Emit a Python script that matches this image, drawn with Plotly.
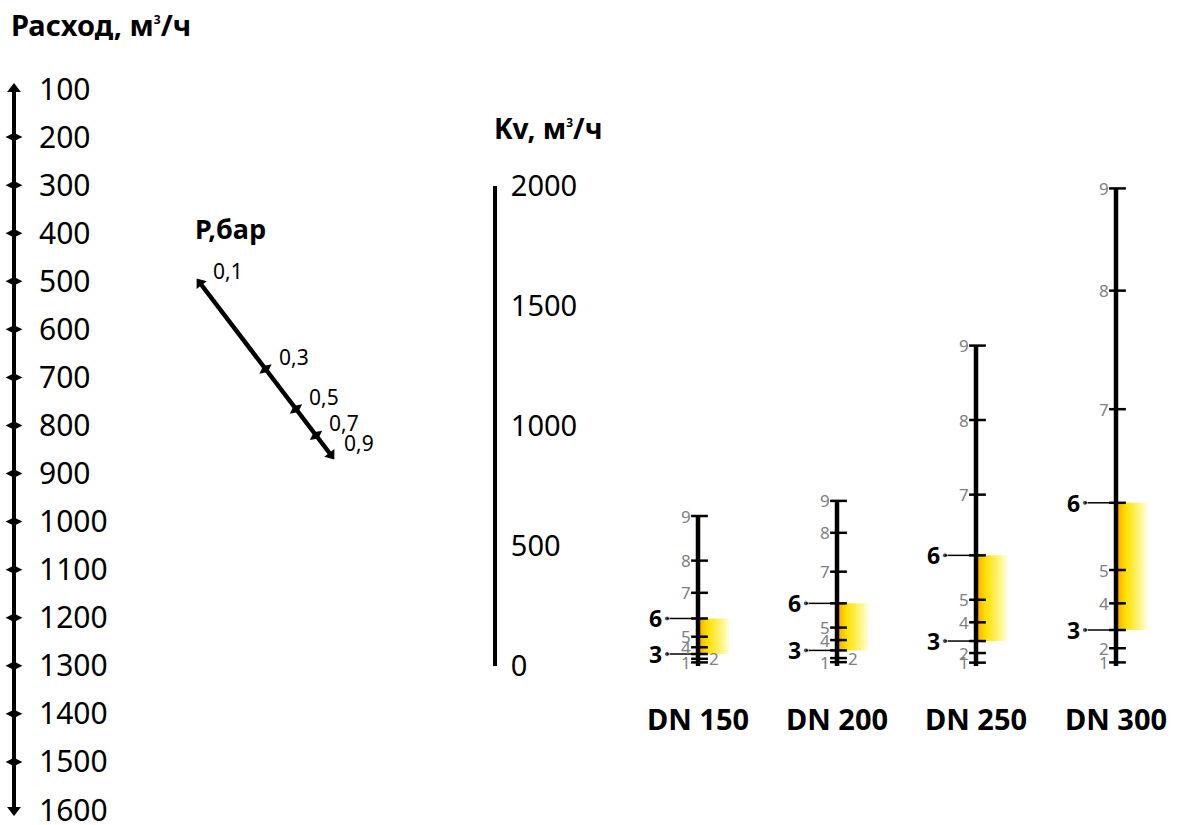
import numpy as np
import plotly.graph_objects as go

# ---------------- data ----------------
flow_ticks = [100, 200, 300, 400, 500, 600, 700, 800, 900, 1000, 1100, 1200, 1300, 1400, 1500, 1600]
pressure_ticks = [0.1, 0.3, 0.5, 0.7, 0.9]
pressure_labels = ["0,1", "0,3", "0,5", "0,7", "0,9"]
kv_ticks = [0, 500, 1000, 1500, 2000]
dn_names = ["DN 150", "DN 200", "DN 250", "DN 300"]
positions = [1, 2, 3, 4, 5, 6, 7, 8, 9]
kv_dn150 = [15, 30, 50, 78, 122, 198, 305, 439, 625]
kv_dn200 = [16, 33, 65, 108, 160, 261, 393, 555, 688]
kv_dn250 = [14, 54, 104, 182, 276, 461, 714, 1025, 1335]
kv_dn300 = [15, 74, 150, 261, 400, 680, 1070, 1564, 1990]
range_low = 3
range_high = 6

# ---------------- layout constants ----------------
W, H = 1181, 825
FONT = "Noto Sans"
FLOW_X = 14
KV_X = 495
DN_X = [698, 837, 976, 1116]
RECT_W = 31
SUP3 = '<sup><span style="font-size:12px">3</span></sup>'


def fy(p):  # pixel row -> paper fraction
    return (H - p) / H


fig = go.Figure()

# ---- flow scale (Расход) ----
n = len(flow_ticks)
sym = ["triangle-up"] + ["diamond-wide"] * (n - 2) + ["triangle-down"]
fig.add_trace(go.Scatter(
    x=[FLOW_X] * n, y=flow_ticks, xaxis="x", yaxis="y",
    mode="markers", cliponaxis=False, hoverinfo="skip",
    marker=dict(symbol=sym, size=12, color="black", line=dict(width=0)),
))

# ---- pressure scale (log) ----
m = len(pressure_ticks)
psym = ["triangle-up"] + ["diamond-wide"] * (m - 2) + ["triangle-down"]
fig.add_trace(go.Scatter(
    x=pressure_ticks, y=pressure_ticks, xaxis="x2", yaxis="y3",
    mode="lines+markers", cliponaxis=False, hoverinfo="skip",
    line=dict(color="black", width=4.5),
    marker=dict(symbol=psym, size=11, color="black", angle=-37.3, line=dict(width=0)),
))
for p, lab in zip(pressure_ticks, pressure_labels):
    fig.add_annotation(x=np.log10(p), y=np.log10(p), xref="x2", yref="y3",
                       text=lab, showarrow=False, xanchor="left", yanchor="middle",
                       xshift=11, yshift=12,
                       font=dict(family=FONT, size=21, color="black"))

# ---- DN scales on the Kv axis ----
dn_data = [kv_dn150, kv_dn200, kv_dn250, kv_dn300]
for i, (name, kv, x0) in enumerate(zip(dn_names, dn_data, DN_X)):
    k3 = kv[positions.index(range_low)]
    k6 = kv[positions.index(range_high)]
    # gradient band
    fig.add_trace(go.Scatter(
        x=[x0, x0 + RECT_W, x0 + RECT_W, x0, x0], y=[k3, k3, k6, k6, k3],
        xaxis="x", yaxis="y2", mode="lines", fill="toself",
        line=dict(width=0), hoverinfo="skip",
        fillgradient=dict(type="horizontal",
                          colorscale=[[0, "#FFA000"], [0.3, "#FFE000"],
                                      [0.65, "#FFF060"], [1, "#FFFFD8"]]),
    ))
    # scale line
    fig.add_trace(go.Scatter(
        x=[x0, x0], y=[0, kv[-1]], xaxis="x", yaxis="y2", mode="lines",
        line=dict(color="black", width=4.5), hoverinfo="skip", cliponaxis=False,
    ))
    # ticks
    fig.add_trace(go.Scatter(
        x=[x0 + 1.5] * len(kv), y=kv, xaxis="x", yaxis="y2", mode="markers",
        marker=dict(symbol="line-ew", size=12, line=dict(width=2.5, color="black")),
        hoverinfo="skip", cliponaxis=False,
    ))
    # grey labels
    for pos, k in zip(positions, kv):
        if pos in (range_low, range_high):
            continue
        right = (pos == 2 and i < 2)
        fig.add_annotation(x=x0, y=k, xref="x", yref="y2", text=str(pos), showarrow=False,
                           xanchor="left" if right else "right", yanchor="middle",
                           xshift=9 if right else -5,
                           font=dict(family=FONT, size=17, color="#808080"))
    # bold 3 / 6 leaders
    for pos in (range_low, range_high):
        k = kv[positions.index(pos)]
        fig.add_trace(go.Scatter(
            x=[x0 - 31, x0], y=[k, k], xaxis="x", yaxis="y2", mode="lines+markers",
            line=dict(color="black", width=1.5),
            marker=dict(size=[5, 0], color="black"), hoverinfo="skip", cliponaxis=False,
        ))
        fig.add_annotation(x=x0 - 34, y=k, xref="x", yref="y2", text=f"<b>{pos}</b>",
                           showarrow=False, xanchor="right", yanchor="middle",
                           font=dict(family=FONT, size=23, color="black"))
    fig.add_annotation(x=x0, y=fy(718), xref="x", yref="paper", text=f"<b>{name}</b>",
                       showarrow=False, xanchor="center", yanchor="middle",
                       font=dict(family=FONT, size=29, color="black"))

# ---- titles ----
fig.add_annotation(x=9, y=fy(25), xref="x", yref="paper", text=f"<b>Расход, м{SUP3}/ч</b>",
                   showarrow=False, xanchor="left", yanchor="middle",
                   font=dict(family=FONT, size=29, color="black"))
fig.add_annotation(x=492, y=fy(128), xref="x", yref="paper", text=f"<b>Kv, м{SUP3}/ч</b>",
                   showarrow=False, xanchor="left", yanchor="middle",
                   font=dict(family=FONT, size=28, color="black"))
fig.add_annotation(x=193, y=fy(228), xref="x", yref="paper", text="<b>P,бар</b>",
                   showarrow=False, xanchor="left", yanchor="middle",
                   font=dict(family=FONT, size=27, color="black"))

# ---- axes ----
# pressure log axes: 0.1 -> (200,283) px, 0.9 -> (331,455) px
lx0, lx1 = np.log10(0.1), np.log10(0.9)
bx = (331 - 200) / (lx1 - lx0)
by = (455 - 283) / (lx1 - lx0)
x2_range = [lx0 - 200 / bx, lx0 + (W - 200) / bx]
y3_range = [lx0 + (H - 283) / by, lx0 - 283 / by]

fig.update_layout(
    width=W, height=H, margin=dict(l=0, r=0, t=0, b=0, pad=0, autoexpand=False),
    paper_bgcolor="white", plot_bgcolor="rgba(0,0,0,0)", showlegend=False,
    font=dict(family=FONT, color="black"),
    xaxis=dict(range=[0, W], domain=[0, 1], visible=False, fixedrange=True, automargin=False),
    xaxis2=dict(type="log", range=x2_range, domain=[0, 1], visible=False, anchor="y3",
                automargin=False),
    yaxis=dict(range=[1600, 100], domain=[fy(810), fy(89)], anchor="free", position=FLOW_X / W,
               side="right", showline=True, linewidth=4, linecolor="black",
               showgrid=False, zeroline=False, ticks="", automargin=False,
               ticklabeloverflow="allow",
               tickvals=flow_ticks, ticktext=[str(v) for v in flow_ticks],
               tickfont=dict(family=FONT, size=30, color="black"), ticklabelstandoff=17),
    yaxis2=dict(range=[0, 2000], domain=[fy(666), fy(186)], anchor="free", position=KV_X / W,
                side="right", showline=True, linewidth=4, linecolor="black",
                showgrid=False, zeroline=False, ticks="", automargin=False,
                ticklabeloverflow="allow",
                tickvals=kv_ticks, ticktext=[str(v) for v in kv_ticks],
                tickfont=dict(family=FONT, size=29, color="black"), ticklabelstandoff=8),
    yaxis3=dict(type="log", range=y3_range, domain=[0, 1], visible=False, anchor="x2",
                automargin=False),
)

fig.write_html("out.html", config={"displayModeBar": False},
               post_script="document.body.style.margin='0px';")
